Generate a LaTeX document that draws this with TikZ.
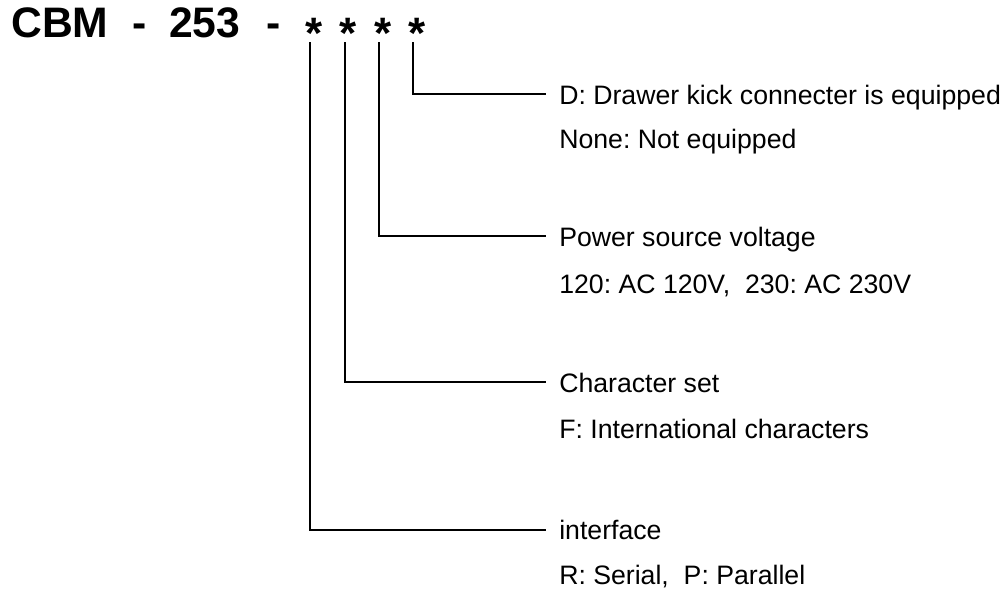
\documentclass[tikz,border=0pt]{standalone}
\usepackage{fontspec}
\setmainfont{Liberation Sans}
\frenchspacing
\begin{document}
\frenchspacing
\begin{tikzpicture}[x=0.75pt,y=-0.75pt,
  titletext/.style={font=\bfseries\fontsize{32}{38}\selectfont, inner sep=0pt, anchor=base west},
  titlemid/.style={font=\bfseries\fontsize{32}{38}\selectfont, inner sep=0pt, anchor=base},
  starmark/.style={font=\bfseries\fontsize{33}{38}\selectfont, inner sep=0pt, anchor=base},
  desc/.style={font=\fontsize{20}{24}\selectfont, inner sep=0pt, anchor=base west},
  lead/.style={line width=0.9pt, line cap=rect}]
\useasboundingbox (0,0) rectangle (1004,589);
% title
\node[titletext] (cbm) at (11,37) {CBM};
\node[titlemid] (dash1) at (140,37) {-};
\node[titletext] (num) at (169,37) {253};
\node[titlemid] (dash2) at (273.5,37) {-};
\node[starmark] (a1) at (314,48) {*};
\node[starmark] (a2) at (348,48) {*};
\node[starmark] (a3) at (383,48) {*};
\node[starmark] (a4) at (417,48) {*};
% line start and end points
\coordinate (s1) at (310,43);
\coordinate (s2) at (345,43);
\coordinate (s3) at (379,43);
\coordinate (s4) at (413,43);
\coordinate (e4) at (545,94);
\coordinate (e3) at (545,236);
\coordinate (e2) at (545,382);
\coordinate (e1) at (545,530);
% descriptions
\node[desc] (d4a) at (559,104) {D: Drawer kick connecter is equipped};
\node[desc] (d4b) at (559,148) {None: Not equipped};
\node[desc] (d3a) at (559,246) {Power source voltage};
\node[desc] (d3b) at (559,293) {120: AC 120V,\ \ 230: AC 230V};
\node[desc] (d2a) at (559,392) {Character set};
\node[desc] (d2b) at (559,438) {F: International characters};
\node[desc] (d1a) at (559,539) {interface};
\node[desc] (d1b) at (559,584) {R: Serial,\ \ P: Parallel};
% leaders
\draw[lead] (s4) |- (e4);
\draw[lead] (s3) |- (e3);
\draw[lead] (s2) |- (e2);
\draw[lead] (s1) |- (e1);
\end{tikzpicture}
\end{document}
